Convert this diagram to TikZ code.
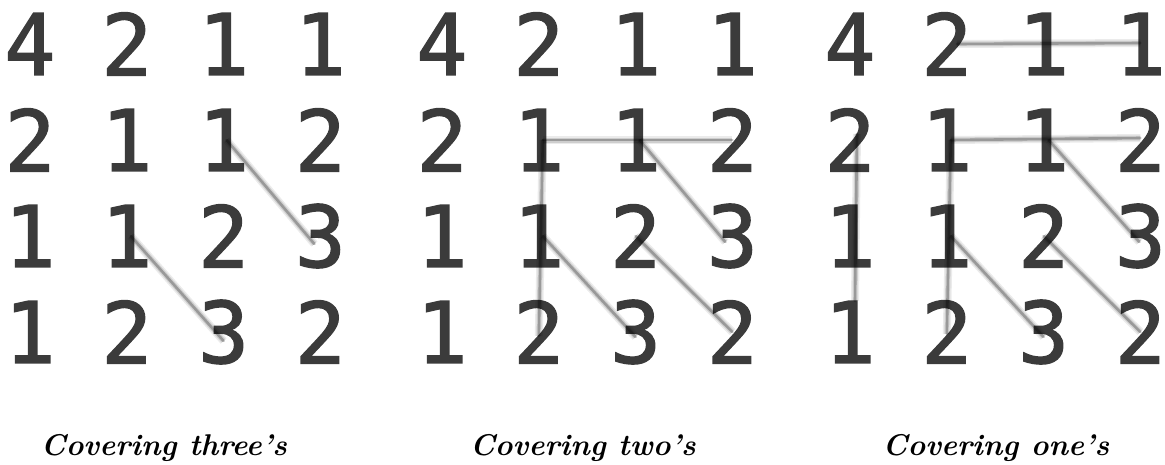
\documentclass[tikz,border=0pt]{standalone}
\usepackage{fontspec}
\newfontfamily\digitfont[BoldFont=DejaVu Sans Mono, BoldFeatures={FakeBold=1.6}]{DejaVu Sans Mono}
\definecolor{digitgray}{HTML}{3B3B3B}
\begin{document}
\begin{tikzpicture}[x=1pt,y=-1pt,
  digit/.style={inner sep=0pt, text=digitgray, font=\digitfont\bfseries\fontsize{85}{85}\selectfont},
  caption/.style={inner sep=0pt, anchor=base, font=\fontsize{30}{30}\selectfont\bfseries\itshape},
  cover/.style={draw=black, line width=2.6pt, draw opacity=0.26, line cap=round,
    preaction={draw=black, line width=8pt, draw opacity=0.08},
    preaction={draw=black, line width=5pt, draw opacity=0.12}}]
\useasboundingbox (0,0) rectangle (1165,464);
\foreach \g/\gx in {1/0,2/412,3/820}{
  \foreach \r/\rowvals in {1/{4,2,1,1},2/{2,1,1,2},3/{1,1,2,3},4/{1,2,3,2}}{
    \foreach \v [count=\c] in \rowvals{
      \node[digit] (g\g-\r-\c) at ({\gx+30+96.8*(\c-1)},{44+96*(\r-1)}) {\makebox[36pt]{\v}};
    }
  }
}
% captions
\node[caption] (cap1) at (164,455) {Covering three's};
\node[caption] (cap2) at (583,455) {Covering two's};
\node[caption] (cap3) at (996,455) {Covering one's};
% grid 1
\draw[cover] ([xshift=3pt]g1-2-3.center) -- ([shift={(-6pt,-8pt)}]g1-3-4.center);
\draw[cover] ([xshift=4pt]g1-3-2.center) -- ([yshift=-9pt]g1-4-3.center);
% grid 2
\draw[cover] ([xshift=4pt]g2-2-2.center) -- (g2-2-4.center);
\draw[cover] ([xshift=4pt]g2-2-2.center) -- ([yshift=-4pt]g2-4-2.center);
\draw[cover] ([xshift=4pt]g2-2-3.center) -- ([shift={(-7pt,-6pt)}]g2-3-4.center);
\draw[cover] ([xshift=4pt]g2-3-2.center) -- ([yshift=-5pt]g2-4-3.center);
\draw[cover] (g2-3-3.center) -- (g2-4-4.center);
% grid 3
\draw[cover] ([xshift=10pt]g3-1-2.center) -- ([yshift=1pt]g3-1-4.center);
\draw[cover] ([xshift=4pt]g3-2-2.center) -- ([yshift=2pt]g3-2-4.center);
\draw[cover] ([shift={(7pt,6pt)}]g3-2-1.center) -- ([xshift=5pt]g3-4-1.north);
\draw[cover] ([xshift=4pt]g3-2-2.center) -- ([yshift=-2pt]g3-4-2.center);
\draw[cover] ([xshift=5pt]g3-2-3.center) -- ([shift={(-1pt,-6pt)}]g3-3-4.center);
\draw[cover] ([xshift=4pt]g3-3-2.center) -- ([yshift=-5pt]g3-4-3.center);
\draw[cover] (g3-3-3.center) -- (g3-4-4.center);
\end{tikzpicture}
\end{document}
